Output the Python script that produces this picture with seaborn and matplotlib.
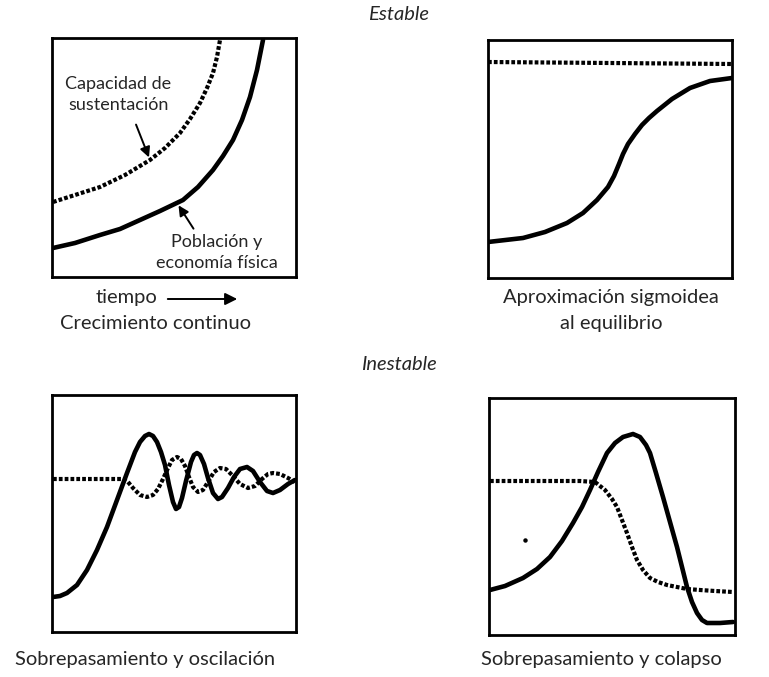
import numpy as np
import pandas as pd
import matplotlib
matplotlib.use('Agg')
import matplotlib.pyplot as plt
import seaborn as sns

sns.set_style('white')
plt.rcParams['font.family'] = ['Lato', 'DejaVu Sans']

# valores (tiempo, nivel) en unidades arbitrarias
# (1) crecimiento continuo
crec_t = [1, 23, 48, 68, 88, 108, 131, 146, 161, 171, 181, 190, 198, 205, 211]
crec_pob = [29, 34, 42, 48, 57, 66, 77, 90, 107, 121, 137, 157, 180, 207, 237]
crec_cap_t = [1, 23, 48, 73, 98, 113, 128, 138, 148, 155, 161, 165, 168]
crec_cap = [75, 82, 90, 102, 117, 129, 144, 158, 174, 189, 204, 220, 237]

# (2) aproximación sigmoidea
sig_t = [0, 35, 57, 79, 95, 109, 120, 126, 131, 135, 140, 147, 154, 161, 169, 184,
         202, 222, 244]
sig_pob = [36, 40, 46, 55, 65, 78, 91, 102, 114, 124, 134, 144, 153, 160, 167, 179,
           190, 197, 200]
sig_cap_t = [0, 122, 244]
sig_cap = [216, 215, 214]

# (3) sobrepasamiento y oscilación
osc_t = [1, 8, 15, 25, 35, 45, 55, 65, 75, 83, 88, 93, 97, 101, 105, 109, 113, 117,
         121, 124, 127, 130, 134, 139, 142, 145, 148, 152, 156, 161, 166, 170, 176,
         182, 188, 195, 201, 208, 215, 221, 228, 236, 243]
osc_pob = [35, 36, 39, 47, 62, 82, 105, 132, 159, 180, 190, 196, 198, 196, 190, 180,
           167, 147, 130, 123, 125, 134, 151, 170, 177, 179, 177, 168, 154, 139, 133,
           135, 144, 155, 163, 165, 161, 150, 141, 139, 142, 148, 152]
osc_cap_t = [1, 28, 58, 71, 76, 81, 88, 95, 101, 106, 111, 116, 120, 125, 129, 133,
             137, 141, 146, 151, 156, 162, 168, 174, 180, 188, 196, 203, 210, 216,
             221, 228, 236, 243]
osc_cap = [153, 153, 153, 153, 150, 144, 137, 135, 137, 143, 153, 164, 172, 175, 173,
           166, 155, 145, 140, 142, 150, 160, 164, 163, 157, 148, 144, 146, 153, 158,
           159, 158, 154, 150]

# (4) sobrepasamiento y colapso
col_t = [1, 16, 34, 48, 61, 73, 84, 93, 101, 109, 118, 126, 134, 144, 151, 157, 161,
         167, 174, 181, 188, 193, 198, 203, 208, 213, 218, 231, 244]
col_pob = [45, 49, 57, 66, 78, 94, 112, 128, 145, 163, 182, 192, 198, 201, 198, 190,
           182, 162, 138, 113, 88, 68, 48, 33, 22, 15, 12, 12, 13]
col_cap_t = [1, 31, 61, 91, 106, 116, 123, 128, 133, 138, 143, 148, 154, 161, 169,
             178, 188, 198, 211, 226, 244]
col_cap = [154, 154, 154, 154, 153, 145, 136, 128, 115, 102, 88, 75, 65, 57, 53, 50,
           48, 46, 45, 44, 43]

W, H = 769, 677
fig = plt.figure(figsize=(W / 100, H / 100), dpi=100)


def panel(x0, y0, x1, y1):
    ax = fig.add_axes([x0 / W, 1 - y1 / H, (x1 - x0) / W, (y1 - y0) / H])
    ax.set_xlim(0, x1 - x0)
    ax.set_ylim(0, y1 - y0)
    ax.set_xticks([])
    ax.set_yticks([])
    for s in ax.spines.values():
        s.set_color('black')
        s.set_linewidth(2.0)
    return ax


def curvas(ax, t, pob, ct, cap):
    sns.lineplot(x=ct, y=cap, ax=ax, sort=False, estimator=None, color='black',
                 linewidth=3.0, linestyle=(0, (0.9, 0.5)), dash_capstyle='butt')
    sns.lineplot(x=t, y=pob, ax=ax, sort=False, estimator=None, color='black',
                 linewidth=3.3, solid_capstyle='round', solid_joinstyle='round')


ax1 = panel(52, 38, 296, 277)
curvas(ax1, crec_t, crec_pob, crec_cap_t, crec_cap)
ax2 = panel(488, 40, 732, 278)
curvas(ax2, sig_t, sig_pob, sig_cap_t, sig_cap)
ax3 = panel(52, 395, 296, 632)
curvas(ax3, osc_t, osc_pob, osc_cap_t, osc_cap)
ax4 = panel(489, 398, 735, 635)
curvas(ax4, col_t, col_pob, col_cap_t, col_cap)

# etiquetas dentro del primer panel
lab = dict(ha='center', va='center', fontsize=13)
ax1.text(66, 277 - 84, 'Capacidad de', **lab)
ax1.text(67, 277 - 105, 'sustentación', **lab)
ax1.annotate('', xy=(98, 117), xytext=(83, 155),
             arrowprops=dict(arrowstyle='-|>', color='black', lw=1.4, mutation_scale=15))
ax1.text(165, 277 - 242, 'Población y', **lab)
ax1.text(165, 277 - 263, 'economía física', **lab)
ax1.annotate('', xy=(125, 74), xytext=(143, 46),
             arrowprops=dict(arrowstyle='-|>', color='black', lw=1.4, mutation_scale=15))


def txt(x, y, s, **kw):
    fig.text(x / W, 1 - y / H, s, ha='center', va='center', fontsize=14.5, **kw)


txt(399, 15, 'Estable', style='italic')
txt(127, 297, 'tiempo')
fig.add_artist(matplotlib.patches.FancyArrowPatch(
    (165 / W, 1 - 299 / H), (240 / W, 1 - 299 / H), transform=fig.transFigure,
    arrowstyle='-|>', mutation_scale=18, color='black', lw=1.4))
txt(155, 324, 'Crecimiento continuo')
txt(611, 297, 'Aproximación sigmoidea')
txt(611, 324, 'al equilibrio')
txt(399, 365, 'Inestable', style='italic')
txt(145, 659, 'Sobrepasamiento y oscilación')
txt(601, 659, 'Sobrepasamiento y colapso')
fig.add_artist(matplotlib.lines.Line2D([525 / W], [1 - 540 / H], marker='o',
                                       markersize=2.2, color='black',
                                       transform=fig.transFigure))

fig.savefig('out.png', dpi=100)
